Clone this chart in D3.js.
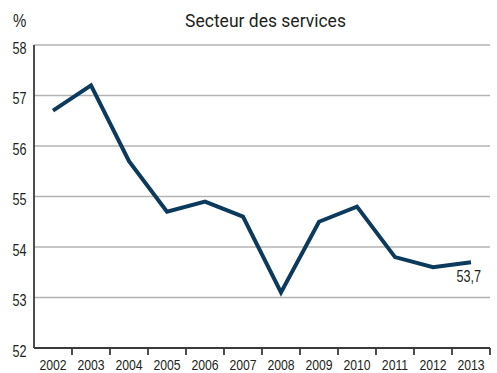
<!DOCTYPE html>
<html>
<head>
<meta charset="utf-8">
<script src="https://cdn.jsdelivr.net/npm/d3@7/dist/d3.min.js"></script>
<style>
  html, body { margin: 0; padding: 0; background: #fff; }
  svg { display: block; }
  .lbl { font-family: "Liberation Sans", Arial, sans-serif; fill: #231f20; }
</style>
</head>
<body>
<svg id="chart" width="497" height="373"></svg>
<script>
// Share of the services sector, in percent
const years = ["2002","2003","2004","2005","2006","2007","2008","2009","2010","2011","2012","2013"];
const values = [56.7, 57.2, 55.7, 54.7, 54.9, 54.6, 53.1, 54.5, 54.8, 53.8, 53.6, 53.7];
const yTicks = [52, 53, 54, 55, 56, 57, 58];
const title = "Secteur des services";
const unit = "%";
const lastLabel = "53,7";

const svg = d3.select("#chart");
const plotL = 34, plotR = 490, plotT = 45, plotB = 348;
const narrow = 0.79; // horizontal squeeze for condensed-looking labels

const x = d3.scaleBand().domain(years).range([plotL, plotR]);
const y = d3.scaleLinear().domain([52, 58]).range([plotB, plotT]);

function narrowText(sel, tx, ty) {
  return sel.attr("x", 0).attr("y", 0)
    .attr("transform", (d, i) => `translate(${tx(d, i)},${ty(d, i)}) scale(${narrow},1)`);
}

// horizontal gridlines
svg.append("g").selectAll("line")
  .data(yTicks.filter(t => t > 52))
  .join("line")
  .attr("x1", plotL).attr("x2", plotR)
  .attr("y1", d => y(d)).attr("y2", d => y(d))
  .attr("stroke", "#b3b3b3").attr("stroke-width", 1.5);

// y tick labels
narrowText(svg.append("g").selectAll("text")
  .data(yTicks)
  .join("text")
  .attr("class", "lbl")
  .attr("text-anchor", "end")
  .attr("font-size", 16)
  .text(d => d), () => 26.5, d => y(d) + 8.5);

// axes, with x ticks at band boundaries
const boundaries = years.map(d => x(d) + x.bandwidth());
const ax = svg.append("g").attr("stroke", "#3a3a3a").attr("stroke-width", 1.8);
ax.append("line").attr("x1", plotL).attr("x2", plotR).attr("y1", plotB).attr("y2", plotB);
ax.append("line").attr("x1", plotL).attr("x2", plotL).attr("y1", plotT).attr("y2", plotB);
ax.selectAll("line.tick")
  .data(boundaries)
  .join("line")
  .attr("class", "tick")
  .attr("x1", d => d).attr("x2", d => d)
  .attr("y1", plotB).attr("y2", plotB + 7);

// x labels
narrowText(svg.append("g").selectAll("text")
  .data(years)
  .join("text")
  .attr("class", "lbl")
  .attr("text-anchor", "middle")
  .attr("font-size", 15.5)
  .text(d => d), d => x(d) + x.bandwidth() / 2, () => 369.5);

// data line
const line = d3.line()
  .x((d, i) => x(years[i]) + x.bandwidth() / 2)
  .y(d => y(d));
svg.append("path")
  .datum(values)
  .attr("d", line)
  .attr("fill", "none")
  .attr("stroke", "#0b3a5c")
  .attr("stroke-width", 4)
  .attr("stroke-linejoin", "miter");

// value label of the last point
const lastIdx = values.length - 1;
narrowText(svg.append("text")
  .datum(values[lastIdx])
  .attr("class", "lbl")
  .attr("text-anchor", "end")
  .attr("font-size", 16)
  .text(lastLabel), () => x(years[lastIdx]) + x.bandwidth() / 2 + 10, d => y(d) + 20);

// title and unit
svg.append("text")
  .attr("x", 265.5).attr("y", 27)
  .attr("text-anchor", "middle")
  .attr("font-family", "Roboto, sans-serif")
  .attr("font-size", 17.5)
  .attr("fill", "#231f20")
  .text(title);
narrowText(svg.append("text")
  .attr("class", "lbl")
  .attr("font-size", 19)
  .text(unit), () => 13, () => 27);
</script>
</body>
</html>
